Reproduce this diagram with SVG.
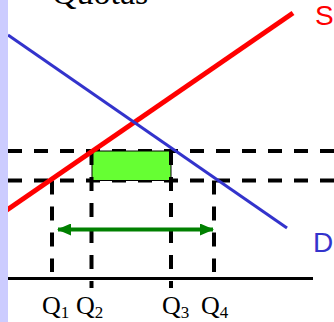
<svg xmlns="http://www.w3.org/2000/svg" width="334" height="322" viewBox="0 0 334 322">
<defs>
<style>
.dash{stroke:#000;stroke-width:4;stroke-dasharray:14 12;fill:none}
.lbl{font-family:"Liberation Serif","Times New Roman",serif;font-size:26px;fill:#000}
.sub{font-size:17px}
</style>
<marker id="ah" viewBox="0 0 14 12" refX="13" refY="6" markerWidth="14" markerHeight="12" markerUnits="userSpaceOnUse" orient="auto-start-reverse">
<path d="M0,0 L14,6 L0,12 Z" fill="#008000"/>
</marker>
</defs>
<rect x="0" y="0" width="334" height="322" fill="#fff"/>
<g id="title"><text x="52" y="4" font-family="Liberation Serif,serif" font-size="34">Quotas</text></g>
<g id="connectors">
<line x1="8" y1="151" x2="334" y2="151" class="dash"/>
<line x1="8" y1="180.5" x2="334" y2="180.5" class="dash"/>
</g>
<g id="quota-area"><rect x="92" y="151" width="79" height="29.5" fill="#66ff33" stroke="#000" stroke-width="1"/></g>
<g id="guides">
<line x1="52" y1="180.5" x2="52" y2="272" class="dash"/>
<line x1="91.5" y1="151" x2="91.5" y2="288" class="dash"/>
<line x1="171" y1="151" x2="171" y2="288" class="dash"/>
<line x1="214" y1="180.5" x2="214" y2="272" class="dash"/>
</g>
<g id="supply"><line x1="4" y1="212" x2="293" y2="13" stroke="#ff0000" stroke-width="5"/><text x="315" y="25" font-family="Liberation Sans,Arial,sans-serif" font-size="28" fill="#ff0000">S</text></g>
<g id="demand"><line x1="8" y1="35" x2="287" y2="228" stroke="#3333cc" stroke-width="3"/><text x="313" y="252" font-family="Liberation Sans,Arial,sans-serif" font-size="28" fill="#3333cc">D</text></g>
<g id="axis"><line x1="8" y1="278.5" x2="313" y2="278.5" stroke="#000" stroke-width="3"/></g>
<g id="arrow"><line x1="58" y1="229.5" x2="213" y2="229.5" stroke="#008000" stroke-width="4" marker-start="url(#ah)" marker-end="url(#ah)"/></g>
<rect x="0" y="0" width="8" height="322" fill="#ccccff"/>
<g id="labels">
<text class="lbl" x="42" y="314">Q<tspan class="sub" dy="4">1</tspan></text>
<text class="lbl" x="76" y="314">Q<tspan class="sub" dy="4">2</tspan></text>
<text class="lbl" x="162" y="314">Q<tspan class="sub" dy="4">3</tspan></text>
<text class="lbl" x="201" y="314">Q<tspan class="sub" dy="4">4</tspan></text>
</g>
</svg>
